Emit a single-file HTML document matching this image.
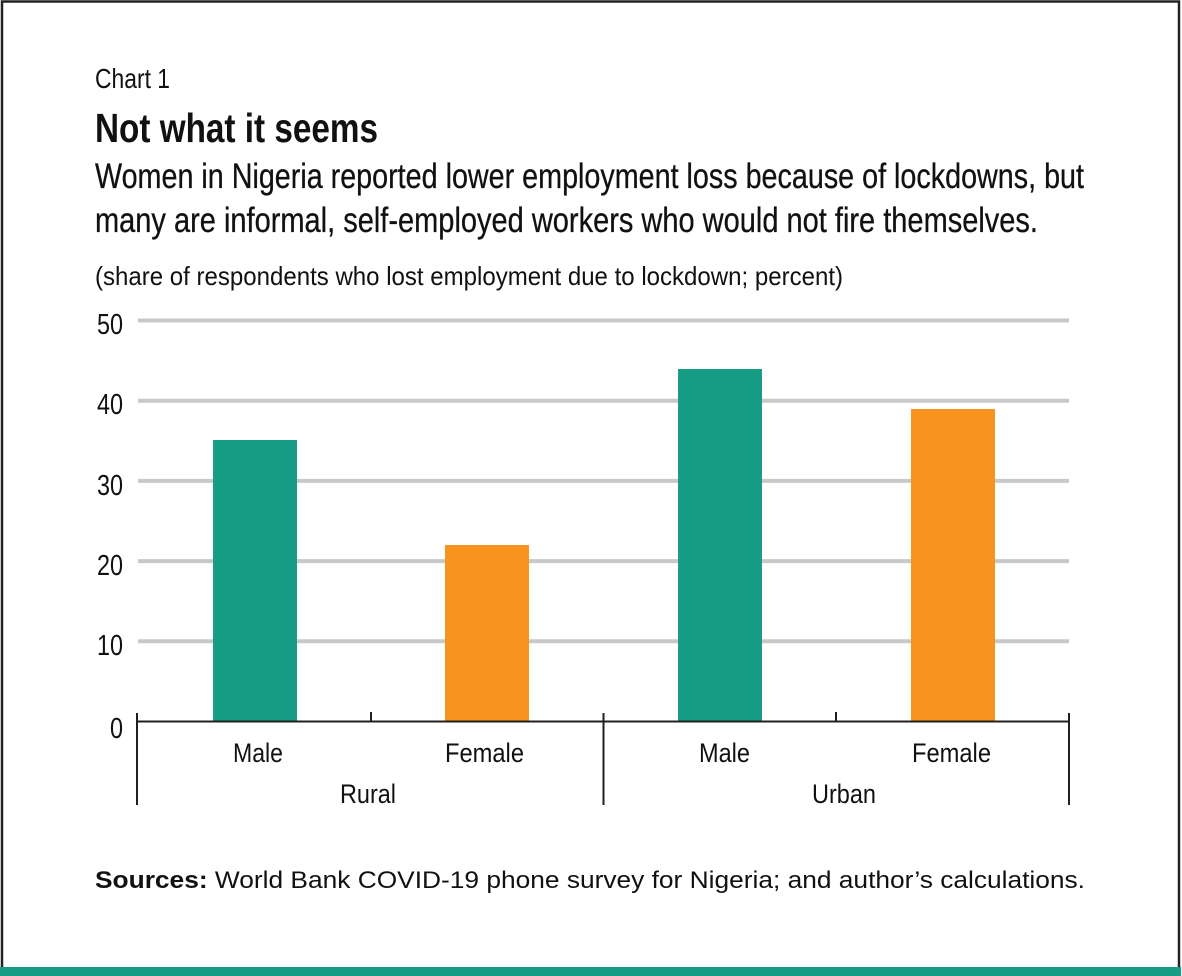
<!DOCTYPE html>
<html>
<head>
<meta charset="utf-8">
<style>
  html, body { margin: 0; padding: 0; background: #ffffff; }
  body { width: 1182px; height: 976px; overflow: hidden; }
  svg { display: block; }
  text { font-family: "Liberation Sans", "DejaVu Sans", sans-serif; fill: #111111; }
</style>
</head>
<body>
<svg width="1182" height="976" viewBox="0 0 1182 976" xmlns="http://www.w3.org/2000/svg">
  <rect x="0" y="0" width="1182" height="976" fill="#ffffff"/>
  <!-- outer border -->
  <rect x="2" y="1.5" width="1177" height="970" fill="none" stroke="#222222" stroke-width="2.5"/>
  <!-- bottom teal bar -->
  <rect x="0" y="967" width="1181" height="9" fill="#179c86"/>

  <!-- header text -->
  <text x="95" y="88" font-size="28" textLength="75" lengthAdjust="spacingAndGlyphs">Chart 1</text>
  <text x="95" y="142" font-size="41" font-weight="bold" textLength="283" lengthAdjust="spacingAndGlyphs">Not what it seems</text>
  <text x="95" y="188" font-size="35" textLength="989" lengthAdjust="spacingAndGlyphs" stroke="#111" stroke-width="0.3">Women in Nigeria reported lower employment loss because of lockdowns, but</text>
  <text x="95" y="232" font-size="35" textLength="943" lengthAdjust="spacingAndGlyphs" stroke="#111" stroke-width="0.3">many are informal, self-employed workers who would not fire themselves.</text>
  <text x="95" y="285" font-size="26" textLength="748" lengthAdjust="spacingAndGlyphs">(share of respondents who lost employment due to lockdown; percent)</text>

  <!-- gridlines -->
  <g stroke="#c8c8cb" stroke-width="4">
    <line x1="138" y1="320.5" x2="1069" y2="320.5"/>
    <line x1="138" y1="400.7" x2="1069" y2="400.7"/>
    <line x1="138" y1="480.9" x2="1069" y2="480.9"/>
    <line x1="138" y1="561.1" x2="1069" y2="561.1"/>
    <line x1="138" y1="641.3" x2="1069" y2="641.3"/>
  </g>

  <!-- y labels -->
  <g font-size="29">
    <text x="97" y="334" textLength="26" lengthAdjust="spacingAndGlyphs">50</text>
    <text x="97" y="414" textLength="26" lengthAdjust="spacingAndGlyphs">40</text>
    <text x="97" y="495" textLength="26" lengthAdjust="spacingAndGlyphs">30</text>
    <text x="97" y="575" textLength="26" lengthAdjust="spacingAndGlyphs">20</text>
    <text x="97" y="655" textLength="26" lengthAdjust="spacingAndGlyphs">10</text>
    <text x="110" y="738" textLength="13" lengthAdjust="spacingAndGlyphs">0</text>
  </g>

  <!-- bars -->
  <rect x="213" y="440" width="84" height="281.5" fill="#179c86"/>
  <rect x="445" y="545" width="84" height="176.5" fill="#f7941e"/>
  <rect x="678" y="369" width="84" height="352.5" fill="#179c86"/>
  <rect x="911" y="409" width="84" height="312.5" fill="#f7941e"/>

  <!-- axis -->
  <g stroke="#231f20" stroke-width="2">
    <line x1="137" y1="721.5" x2="1069" y2="721.5"/>
    <line x1="137" y1="713" x2="137" y2="805"/>
    <line x1="603.5" y1="713" x2="603.5" y2="805"/>
    <line x1="1069" y1="713" x2="1069" y2="805"/>
    <line x1="371" y1="712" x2="371" y2="721"/>
    <line x1="836" y1="712" x2="836" y2="721"/>
  </g>

  <!-- category labels -->
  <g font-size="27">
    <text x="233" y="762" textLength="50" lengthAdjust="spacingAndGlyphs">Male</text>
    <text x="445" y="762" textLength="79" lengthAdjust="spacingAndGlyphs">Female</text>
    <text x="699" y="762" textLength="51" lengthAdjust="spacingAndGlyphs">Male</text>
    <text x="912" y="762" textLength="79" lengthAdjust="spacingAndGlyphs">Female</text>
    <text x="340" y="803" textLength="56" lengthAdjust="spacingAndGlyphs">Rural</text>
    <text x="812" y="803" textLength="64" lengthAdjust="spacingAndGlyphs">Urban</text>
  </g>

  <!-- sources -->
  <text x="95" y="888" font-size="24" textLength="990" lengthAdjust="spacingAndGlyphs"><tspan font-weight="bold">Sources:</tspan> World Bank COVID-19 phone survey for Nigeria; and author’s calculations.</text>
</svg>
</body>
</html>
